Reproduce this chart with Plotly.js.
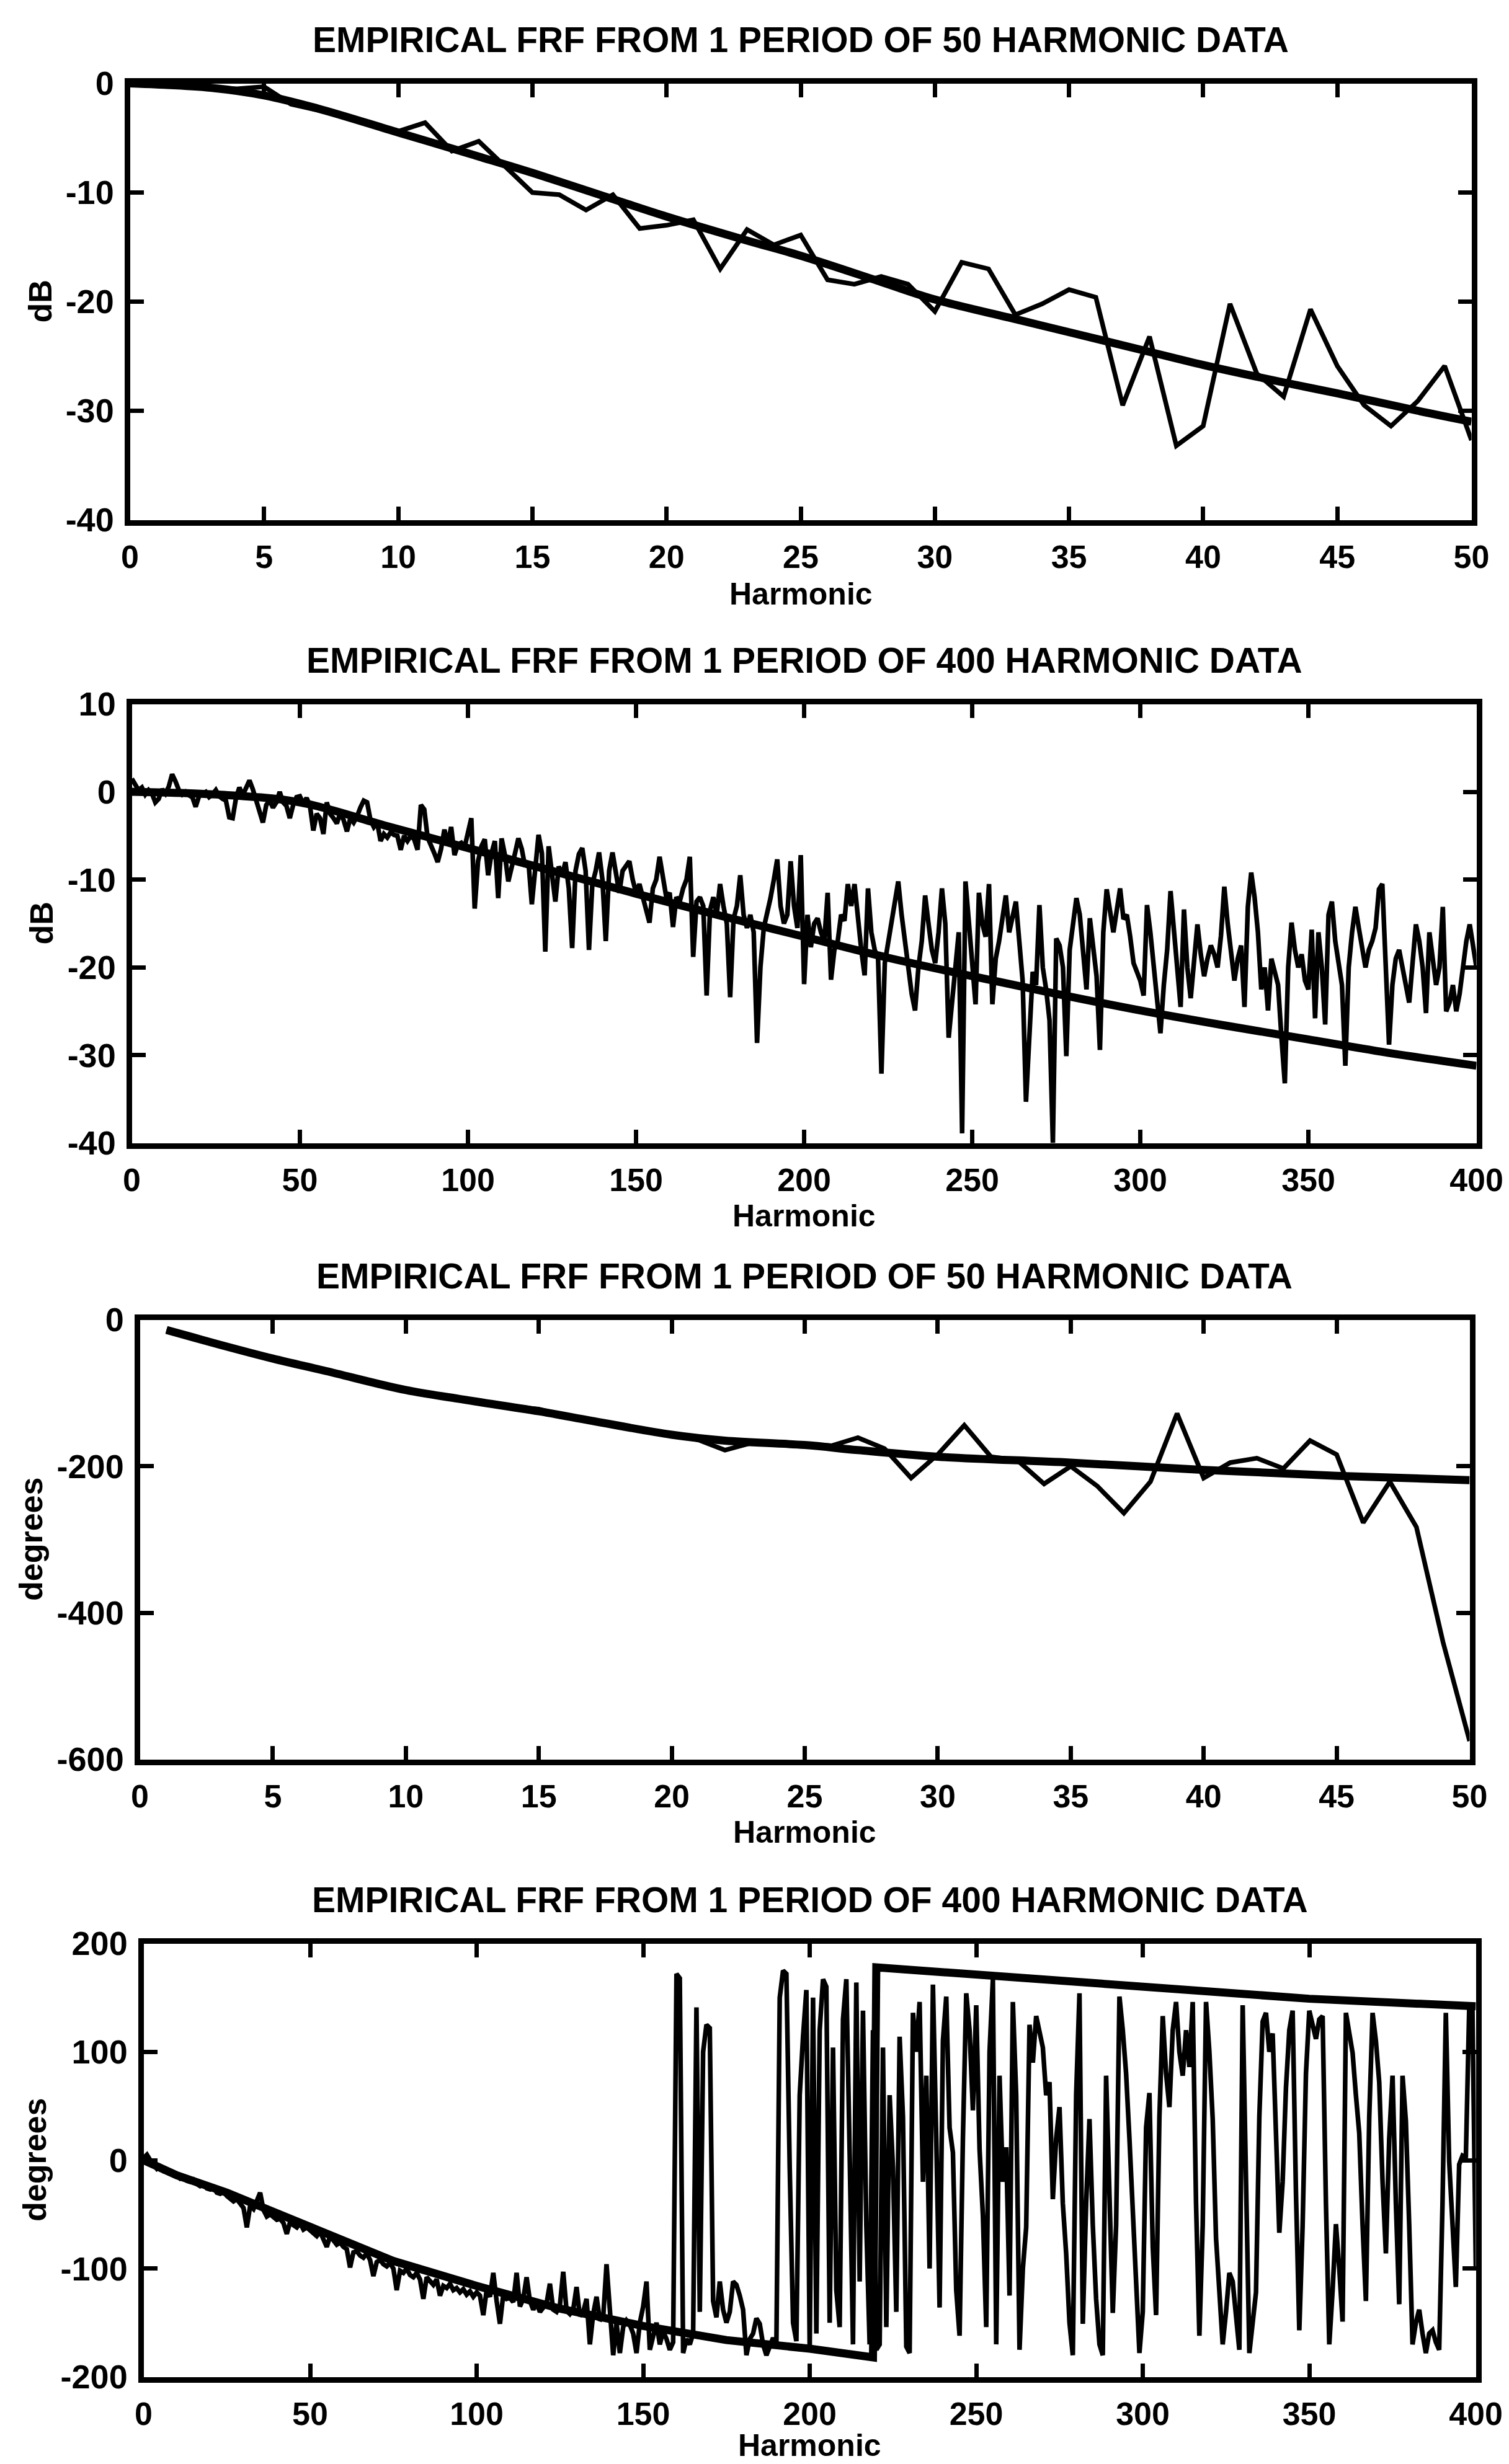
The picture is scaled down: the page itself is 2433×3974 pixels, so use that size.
<!DOCTYPE html>
<html>
<head>
<meta charset="utf-8">
<script src="https://cdn.plot.ly/plotly-3.0.1.min.js"></script>
<style>
  html, body { margin: 0; padding: 0; background: #fff; }
  #chart { width: 2433px; height: 3974px; }
</style>
</head>
<body>
<div id="chart"></div>
<script>
// ---------- tick positions and labels ----------
const harmonicTicks50  = [0, 5, 10, 15, 20, 25, 30, 35, 40, 45, 50];
const harmonicTicks400 = [0, 50, 100, 150, 200, 250, 300, 350, 400];
const dbTicks50        = [0, -10, -20, -30, -40];
const dbTicks400       = [10, 0, -10, -20, -30, -40];
const degTicks50       = [0, -200, -400, -600];
const degTicks400      = [200, 100, 0, -100, -200];

const plotTitles = [
  'EMPIRICAL FRF FROM 1 PERIOD OF 50 HARMONIC DATA',
  'EMPIRICAL FRF FROM 1 PERIOD OF 400 HARMONIC DATA',
  'EMPIRICAL FRF FROM 1 PERIOD OF 50 HARMONIC DATA',
  'EMPIRICAL FRF FROM 1 PERIOD OF 400 HARMONIC DATA'
];
const xLabel = 'Harmonic';
const yLabels = ['dB', 'dB', 'degrees', 'degrees'];

// ---------- magnitude, 50 harmonics (measured: harmonic 0..50) ----------
const mag50Measured = [
  0, 0, -0.3, -0.5, -0.5, -0.3, -1.9, -2.4, -3.0, -3.7,
  -4.4, -3.6, -6.2, -5.3, -7.6, -10.0, -10.2, -11.6, -10.2, -13.3,
  -13.0, -12.5, -17.0, -13.4, -14.8, -13.9, -18.0, -18.4, -17.7, -18.4,
  -20.9, -16.4, -17.0, -21.2, -20.2, -18.9, -19.6, -29.5, -23.2, -33.2,
  -31.4, -20.2, -26.6, -28.7, -20.7, -25.9, -29.5, -31.4, -29.1, -25.9,
  -32.7
];
const mag50ModelH = [0, 1, 3, 5, 7, 10, 13, 15, 18, 20, 23, 25, 28, 30, 33, 35, 38, 40, 43, 45, 48, 50];
const mag50Model  = [0, -0.1, -0.4, -1.1, -2.3, -4.5, -6.7, -8.2, -10.6, -12.2, -14.4, -15.8, -18.2, -19.8, -21.6, -22.8, -24.6, -25.8, -27.4, -28.4, -30.0, -31.0];

// ---------- magnitude, 400 harmonics (measured: harmonic 0..400) ----------
const mag400Measured = [
  1.5, 0.8, 0.2, 0.5, -0.3, 0.2, -0.2, -1.2, -0.8, 0.3,
  -0.2, 0.6, 2.0, 1.2, 0.2, -0.3, 0.0, -0.4, -0.6, -1.7,
  -0.5, -0.2, 0.0, -0.6, -0.3, 0.2, -0.5, -0.8, -1.0, -2.9,
  -3.0, -0.7, 0.5, -0.4, 0.6, 1.3, 0.3, -1.0, -2.4, -3.5,
  -1.5, -1.0, -1.8, -1.2, 0.0, -1.2, -1.6, -3.0, -1.5, -0.6,
  -0.5, -1.3, -0.7, -1.6, -4.4, -2.5, -3.0, -4.8, -1.2, -2.5,
  -3.0, -3.6, -2.4, -3.2, -4.5, -3.0, -3.5, -2.8, -1.8, -1.0,
  -1.2, -3.2, -4.0, -3.5, -5.6, -4.8, -5.2, -4.6, -4.9, -5.0,
  -6.6, -5.0, -5.6, -5.0, -5.4, -6.6, -1.5, -2.0, -5.2, -6.3,
  -7.0, -8.0, -6.5, -4.3, -6.0, -4.0, -7.2, -6.0, -5.8, -6.3,
  -4.5, -3.0, -13.3, -7.9, -6.2, -5.4, -9.5, -7.0, -5.6, -12.1,
  -5.3, -7.2, -10.2, -8.3, -7.0, -5.3, -6.5, -8.5, -8.0, -12.8,
  -9.0, -4.9, -7.0, -18.2, -6.2, -10.0, -12.5, -8.5, -9.5, -8.0,
  -11.0, -17.8, -9.0, -7.1, -6.4, -9.0, -18.0, -10.5, -9.0, -6.9,
  -10.0, -17.0, -9.0, -6.9, -9.5, -11.5, -9.0, -8.5, -7.9, -10.0,
  -11.5, -10.5, -12.0, -13.0, -14.9, -11.0, -10.0, -7.4, -10.0, -12.0,
  -11.5, -15.4, -12.0, -12.5, -11.0, -10.0, -7.4, -18.8, -12.5, -12.0,
  -13.0, -23.2, -13.5, -12.0, -14.0, -10.5, -13.0, -15.0, -23.4, -14.5,
  -13.0, -9.5, -14.0, -15.5, -14.0, -16.0, -28.6, -20.0, -15.5, -14.0,
  -12.1, -10.0, -7.7, -13.0, -15.0, -14.0, -7.9, -13.0, -15.5, -7.2,
  -21.9, -14.0, -17.7, -15.0, -14.4, -16.0, -17.0, -11.5, -21.4, -18.0,
  -17.0, -14.0, -14.7, -10.5, -13.0, -10.5, -15.0, -18.0, -20.9, -11.0,
  -16.0, -18.0, -19.0, -32.1, -19.5, -17.0, -15.0, -12.0, -10.2, -14.0,
  -17.0, -20.5, -23.0, -24.9, -20.0, -17.0, -11.8, -15.0, -18.0, -19.5,
  -16.0, -11.0, -15.0, -28.0, -24.0, -20.0, -16.0, -38.9, -10.2, -14.8,
  -20.0, -24.2, -11.5, -15.0, -16.5, -10.5, -24.2, -19.0, -17.0, -14.5,
  -11.8, -16.0, -14.0, -12.5, -17.0, -21.5, -35.3, -28.0, -20.5, -22.0,
  -12.9, -20.0, -22.5, -26.0, -40.0, -16.7, -17.5, -20.0, -30.1, -18.0,
  -15.0, -12.1, -14.0, -18.0, -22.5, -14.4, -17.5, -21.0, -29.4, -16.0,
  -11.1, -14.0, -16.0, -13.5, -11.0, -14.5, -14.0, -16.5, -19.5, -20.5,
  -21.5, -23.2, -12.9, -16.0, -20.0, -23.0, -27.5, -22.0, -18.0, -11.3,
  -16.0, -21.0, -24.5, -13.4, -20.0, -23.5, -19.0, -15.1, -18.5, -21.0,
  -19.0, -17.5, -18.5, -20.0, -16.4, -10.8, -15.0, -18.0, -21.5, -19.0,
  -17.5, -24.5, -13.1, -9.2, -12.0, -16.0, -22.5, -20.0, -24.9, -19.0,
  -20.5, -22.0, -28.0, -33.2, -20.0, -14.9, -18.0, -20.0, -18.5, -21.5,
  -22.5, -15.7, -25.8, -16.0, -20.0, -26.5, -14.0, -12.5, -17.0, -19.5,
  -22.0, -31.2, -20.0, -16.0, -13.1, -15.5, -17.5, -20.0, -18.0, -17.0,
  -15.5, -11.1, -10.5, -20.0, -28.8, -22.0, -19.0, -18.0, -20.0, -22.0,
  -24.0, -19.5, -15.1, -17.0, -20.0, -25.2, -16.0, -19.0, -22.0, -20.0,
  -13.1, -25.0, -24.0, -22.0, -25.0, -23.0, -20.0, -17.0, -15.1, -18.0,
  -20.0
];
const mag400ModelH = [0, 25, 50, 75, 100, 125, 150, 175, 200, 225, 250, 275, 300, 325, 350, 375, 400];
const mag400Model  = [0, -0.3, -1.2, -3.8, -6.4, -9.0, -11.6, -14.1, -16.5, -18.9, -21.0, -23.0, -24.9, -26.6, -28.2, -29.8, -31.2];

// ---------- phase, 50 harmonics (measured: harmonic 1..50) ----------
const phase50Measured = [
  -14, -24, -33, -44, -53, -62, -70, -80, -90, -95,
  -101, -108, -115, -119, -122, -131, -137, -145, -150, -156,
  -164, -178, -168, -170, -170, -172, -161, -176, -216, -184,
  -144, -187, -192, -224, -200, -227, -264, -221, -128, -216,
  -195, -189, -203, -165, -184, -277, -221, -283, -440, -575
];
const phase50ModelH = [1, 2, 3, 5, 7, 10, 12, 15, 17, 20, 22, 25, 27, 30, 35, 40, 45, 50];
const phase50Model  = [-14, -24, -34, -53, -70, -96, -108, -125, -138, -157, -165, -171, -178, -187, -195, -205, -213, -219];

// ---------- phase, 400 harmonics (measured: harmonic 0..400, wrapped) ----------
const phase400Measured = [
  2, 5, 0, -4, -8, -6, -10, -9, -12, -13,
  -14, -17, -16, -19, -20, -18, -22, -24, -23, -26,
  -27, -25, -30, -31, -29, -33, -35, -38, -36, -40,
  -44, -62, -42, -45, -38, -30, -46, -52, -50, -53,
  -55, -54, -58, -68, -57, -60, -62, -58, -64, -62,
  -65, -68, -70, -66, -72, -80, -70, -74, -78, -76,
  -80, -82, -99, -85, -84, -88, -90, -86, -92, -107,
  -94, -92, -96, -98, -95, -100, -120, -102, -104, -100,
  -106, -108, -104, -110, -128, -108, -112, -115, -110, -125,
  -116, -118, -114, -120, -118, -122, -119, -124, -121, -126,
  -122, -125, -143, -120, -126, -104, -130, -151, -124, -128,
  -127, -131, -104, -135, -128, -108, -130, -138, -132, -140,
  -136, -132, -114, -138, -140, -134, -103, -139, -142, -138,
  -117, -144, -140, -128, -170, -142, -126, -148, -145, -96,
  -138, -180, -150, -178, -154, -148, -152, -160, -178, -150,
  -135, -112, -175, -160, -150, -170, -158, -165, -175, -168,
  172, 168, -178, -165, -170, -160, 141, -140, 100, 125,
  122, -130, -145, -112, -138, -150, -140, -112, -115, -125,
  -138, -180, -165, -160, -146, -151, -170, -180, -172, -164,
  -170, 150, 175, 172, -7, -150, -167, 60, 114, 157,
  -175, 150, -160, 120, 167, 160, -150, 104, -120, -154,
  130, 167, 6, -170, 164, -112, 138, -60, -170, 120,
  -175, -170, 104, -154, 60, -7, -140, 114, 40, -172,
  -178, 136, 100, 146, -20, 78, -100, 162, 20, -136,
  110, 151, 30, 7, -120, -162, 20, 154, 120, 46,
  143, 10, -51, -154, 100, 167, -170, 78, -20, 12,
  -125, 146, 60, -175, -100, -62, 125, 90, 133, 118,
  104, 60, 72, -36, 20, 49, -40, -86, -150, -180,
  60, 154, -151, -40, 38, -60, -128, -170, -180, 78,
  -30, -141, -60, 151, 120, 80, 20, -41, -120, -178,
  -140, 30, 62, -80, -143, 40, 133, 80, 49, 120,
  146, 100, 78, 120, 86, 146, -40, -162, -60, 146,
  100, 38, -72, -130, -170, -140, -104, -112, -150, -175,
  143, -20, -178, -150, -122, 40, 128, 136, 100, 117,
  30, -67, -20, 67, 120, 138, -30, -157, -60, 80,
  138, 125, 112, 130, 133, -40, -170, -120, -59, -100,
  -149, 136, 120, 99, 60, 25, -60, -130, 40, 136,
  110, 72, -20, -86, 20, 78, -40, -133, 78, 36,
  -60, -170, -150, -138, -160, -178, -160, -157, -168, -175,
  -40, 136, -1, -60, -117, -4, 4, 2, 138, 138,
  -100
];
const phase400ModelH = [0, 10, 25, 50, 75, 100, 125, 150, 175, 200, 219, 220, 250, 300, 350, 400];
const phase400Model  = [0, -14, -30, -61, -93, -116, -137, -153, -166, -174, -182, 178, 171, 159, 149, 142];

// ---------- drawing ----------
const W = 2433, H = 3974;
const FONT = 'Liberation Sans, Arial, Helvetica, sans-serif';
const INK = '#000';

// plot frames in page pixels (left, right, top, bottom)
const frames = [
  { l: 205, r: 2377, t: 130,  b: 843  },
  { l: 208, r: 2385, t: 1131, b: 1848 },
  { l: 221, r: 2374, t: 2124, b: 2842 },
  { l: 227, r: 2384, t: 3130, b: 3838 }
];
const LINE_W = 9;
const inset = LINE_W / 2;

function xDomain(f) { return [(f.l + inset) / W, (f.r - inset) / W]; }
function yDomain(f) { return [1 - (f.b - inset) / H, 1 - (f.t + inset) / H]; }
const label = v => String(v);

function axisBase(size) {
  return {
    showline: true, linecolor: INK, linewidth: LINE_W, mirror: 'allticks',
    ticks: 'inside', ticklen: 22, tickwidth: 7, tickcolor: INK,
    showgrid: false, zeroline: false, fixedrange: true,
    tickmode: 'array',
    tickfont: { family: FONT, size: size, color: INK, weight: 'bold' }
  };
}

const xSpecs = [
  { range: [0, 50],  ticks: harmonicTicks50 },
  { range: [0, 400], ticks: harmonicTicks400 },
  { range: [0, 50],  ticks: harmonicTicks50 },
  { range: [0, 400], ticks: harmonicTicks400 }
];
const ySpecs = [
  { range: [-40, 0],    ticks: dbTicks50 },
  { range: [-40, 10],   ticks: dbTicks400 },
  { range: [-600, 0],   ticks: degTicks50 },
  { range: [-200, 200], ticks: degTicks400 }
];
const xLabelGap = [115, 113, 113, 106];
const yLabelX = [64, 66, 50, 56];

const layout = {
  width: W, height: H,
  margin: { l: 0, r: 0, t: 0, b: 0 },
  paper_bgcolor: '#fff', plot_bgcolor: '#fff',
  showlegend: false,
  annotations: []
};

frames.forEach((f, i) => {
  const n = i === 0 ? '' : String(i + 1);
  layout['xaxis' + n] = Object.assign(axisBase(52), {
    domain: xDomain(f), range: xSpecs[i].range, anchor: 'y' + n,
    tickvals: xSpecs[i].ticks, ticktext: xSpecs[i].ticks.map(label),
    ticklabelstandoff: 6
  });
  layout['yaxis' + n] = Object.assign(axisBase(54), {
    domain: yDomain(f), range: ySpecs[i].range, anchor: 'x' + n,
    tickvals: ySpecs[i].ticks, ticktext: ySpecs[i].ticks.map(label),
    ticklabelstandoff: 6
  });

  const cx = (f.l + f.r) / 2 / W;
  layout.annotations.push({
    text: plotTitles[i], xref: 'paper', yref: 'paper',
    x: cx, y: 1 - (f.t - 66) / H, xanchor: 'center', yanchor: 'middle',
    showarrow: false, font: { family: FONT, size: 57, color: INK, weight: 'bold' }
  });
  layout.annotations.push({
    text: xLabel, xref: 'paper', yref: 'paper',
    x: cx, y: 1 - (f.b + xLabelGap[i]) / H, xanchor: 'center', yanchor: 'middle',
    showarrow: false, font: { family: FONT, size: 50, color: INK, weight: 'bold' }
  });
  layout.annotations.push({
    text: yLabels[i], xref: 'paper', yref: 'paper', textangle: -90,
    x: yLabelX[i] / W, y: 1 - (f.t + f.b) / 2 / H,
    xanchor: 'center', yanchor: 'middle',
    showarrow: false, font: { family: FONT, size: 52, color: INK, weight: 'bold' }
  });
});

const thin = { color: INK, width: 7.5 };
const thick = { color: INK, width: 13 };

const traces = [
  { type: 'scatter', mode: 'lines', x0: 0, dx: 1, y: mag50Measured, xaxis: 'x', yaxis: 'y', line: thin },
  { type: 'scatter', mode: 'lines', x: mag50ModelH, y: mag50Model, xaxis: 'x', yaxis: 'y',
    line: Object.assign({ shape: 'spline', smoothing: 1 }, thick) },

  { type: 'scatter', mode: 'lines', x0: 0, dx: 1, y: mag400Measured, xaxis: 'x2', yaxis: 'y2', line: thin },
  { type: 'scatter', mode: 'lines', x: mag400ModelH, y: mag400Model, xaxis: 'x2', yaxis: 'y2',
    line: Object.assign({ shape: 'spline', smoothing: 1 }, thick) },

  { type: 'scatter', mode: 'lines', x0: 1, dx: 1, y: phase50Measured, xaxis: 'x3', yaxis: 'y3', line: thin },
  { type: 'scatter', mode: 'lines', x: phase50ModelH, y: phase50Model, xaxis: 'x3', yaxis: 'y3',
    line: Object.assign({ shape: 'spline', smoothing: 1 }, thick) },

  { type: 'scatter', mode: 'lines', x0: 0, dx: 1, y: phase400Measured, xaxis: 'x4', yaxis: 'y4', line: thin },
  { type: 'scatter', mode: 'lines', x: phase400ModelH, y: phase400Model, xaxis: 'x4', yaxis: 'y4', line: thick }
];

Plotly.newPlot('chart', traces, layout, { displayModeBar: false, staticPlot: true });
</script>
</body>
</html>
